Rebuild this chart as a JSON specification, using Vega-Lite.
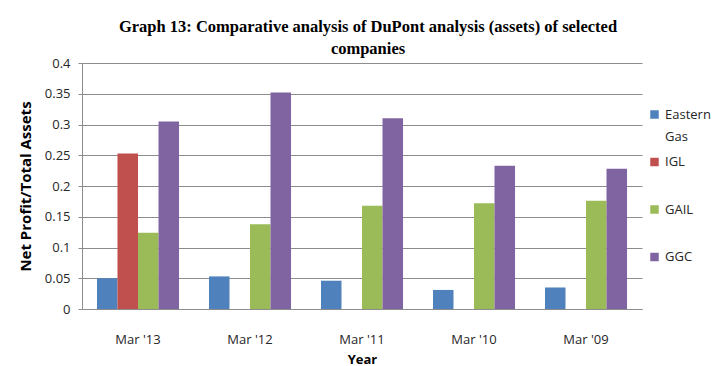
{
  "$schema": "https://vega.github.io/schema/vega-lite/v6.json",
  "width": 560,
  "height": 246,
  "autosize": {"type": "none"},
  "padding": {"left": 82, "top": 63, "right": 76, "bottom": 57},
  "background": "white",
  "title": {
    "text": ["Graph 13: Comparative analysis of DuPont analysis (assets) of selected", "companies"],
    "font": "Liberation Serif",
    "fontSize": 16.5,
    "fontWeight": "bold",
    "color": "#000000",
    "anchor": "middle",
    "dx": 6,
    "offset": 0,
    "lineHeight": 22
  },
  "data": {
    "values": [
      {"year": "Mar '13", "company": "Eastern Gas", "value": 0.050},
      {"year": "Mar '13", "company": "IGL", "value": 0.253},
      {"year": "Mar '13", "company": "GAIL", "value": 0.124},
      {"year": "Mar '13", "company": "GGC", "value": 0.305},
      {"year": "Mar '12", "company": "Eastern Gas", "value": 0.053},
      {"year": "Mar '12", "company": "GAIL", "value": 0.138},
      {"year": "Mar '12", "company": "GGC", "value": 0.352},
      {"year": "Mar '11", "company": "Eastern Gas", "value": 0.046},
      {"year": "Mar '11", "company": "GAIL", "value": 0.168},
      {"year": "Mar '11", "company": "GGC", "value": 0.310},
      {"year": "Mar '10", "company": "Eastern Gas", "value": 0.031},
      {"year": "Mar '10", "company": "GAIL", "value": 0.172},
      {"year": "Mar '10", "company": "GGC", "value": 0.233},
      {"year": "Mar '09", "company": "Eastern Gas", "value": 0.035},
      {"year": "Mar '09", "company": "GAIL", "value": 0.176},
      {"year": "Mar '09", "company": "GGC", "value": 0.228}
    ]
  },
  "mark": {"type": "bar"},
  "encoding": {
    "x": {
      "field": "year",
      "type": "nominal",
      "sort": ["Mar '13", "Mar '12", "Mar '11", "Mar '10", "Mar '09"],
      "scale": {"paddingInner": 0, "paddingOuter": 0},
      "axis": {
        "title": "Year",
        "labelAngle": 0,
        "labelFont": "Open Sans",
        "labelFontSize": 13,
        "labelColor": "#262626",
        "labelPadding": 24,
        "titleFont": "Open Sans",
        "titleFontSize": 13,
        "titleFontWeight": "bold",
        "titleColor": "#000000",
        "titlePadding": 7,
        "ticks": false,
        "domainColor": "#8c8c8c",
        "grid": false
      }
    },
    "xOffset": {
      "field": "company",
      "type": "nominal",
      "sort": ["Eastern Gas", "IGL", "GAIL", "GGC"],
      "scale": {"paddingInner": 0, "paddingOuter": 0.73}
    },
    "y": {
      "field": "value",
      "type": "quantitative",
      "scale": {"domain": [0, 0.4], "nice": false},
      "axis": {
        "title": "Net Profit/Total Assets",
        "values": [0, 0.05, 0.1, 0.15, 0.2, 0.25, 0.3, 0.35, 0.4],
        "labelExpr": "datum.value == 0 ? '0' : format(datum.value, '.2~f')",
        "labelFont": "Open Sans",
        "labelFontSize": 13,
        "labelColor": "#262626",
        "labelPadding": 8,
        "titleFont": "Open Sans",
        "titleFontSize": 15,
        "titleFontWeight": "bold",
        "titleColor": "#000000",
        "titlePadding": 11,
        "tickSize": 4,
        "tickColor": "#8c8c8c",
        "domainColor": "#8c8c8c",
        "gridColor": "#8c8c8c",
        "gridWidth": 1
      }
    },
    "color": {
      "field": "company",
      "type": "nominal",
      "sort": ["Eastern Gas", "IGL", "GAIL", "GGC"],
      "scale": {
        "domain": ["Eastern Gas", "IGL", "GAIL", "GGC"],
        "range": ["#4F81BD", "#C0504D", "#9BBB59", "#8064A2"]
      },
      "legend": {
        "title": null,
        "orient": "none",
        "legendX": 566,
        "legendY": 45,
        "gridAlign": "all",
        "symbolType": "square",
        "symbolSize": 72,
        "symbolStrokeWidth": 0,
        "labelFont": "Open Sans",
        "labelFontSize": 13,
        "labelColor": "#262626",
        "labelExpr": "datum.label == 'Eastern Gas' ? ['Eastern', 'Gas'] : datum.label",
        "labelBaseline": "middle",
        "labelOffset": 4,
        "rowPadding": 11.5
      }
    }
  },
  "config": {
    "view": {"stroke": null},
    "style": {"guide-label": {"lineHeight": 22}}
  }
}
